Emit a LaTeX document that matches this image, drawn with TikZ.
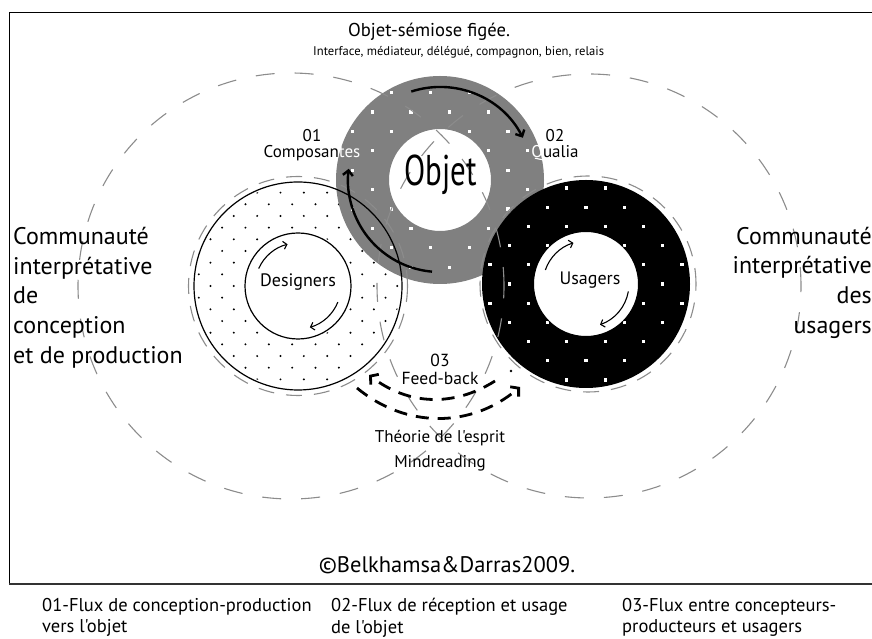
\documentclass[tikz,border=0pt]{standalone}
\usepackage{fontspec}
\setmainfont{PT Sans}[Ligatures=TeXOff]
\newfontfamily\objfont{PT Sans}[FakeStretch=0.72, Ligatures=TeXOff]
\usetikzlibrary{arrows.meta}

\begin{document}
\begin{tikzpicture}[
                x=1pt, y=1pt,
                farcircle/.style={
                    draw=black!45,
                    line width=1.1pt,
                    dash pattern=on 19pt off 20pt
                },
                nearcircle/.style={
                    draw=black!45,
                    line width=1.1pt,
                    dash pattern=on 16pt off 12pt
                },
                flow/.style={
                    line width=2.4pt,
                    -{Straight Barb[length=5pt,width=10pt]}
                },
                spin/.style={
                    line width=1.1pt,
                    -{Straight Barb[length=3.5pt,width=8pt]}
                },
                feedback/.style={
                    line width=2.8pt,
                    dash pattern=on 13pt off 9pt,
                    -{Straight Barb[length=5.5pt,width=13pt]}
                },
                lbl/.style={
                    inner sep=0pt
                }
            ]
                \useasboundingbox (0,0) rectangle (872,639);

                % frame
                \draw[line width=1.5pt] (872,626.3) -- (9.5,626.3) -- (9.5,55.4);
                \draw[line width=2pt, black!80] (8.75,55.4) -- (872,55.4);

                % centres
                \coordinate (obj)  at (440,459);
                \coordinate (des)  at (298,353);
                \coordinate (usa)  at (586,355);
                \coordinate (bigl) at (291,353);
                \coordinate (bigr) at (589,353);

                % designers ring, black dots
                \begin{scope}[even odd rule]
                    \clip (des) circle[radius=102] (des) circle[radius=55];
                    \foreach \j in {-9,...,9}
                        \foreach \i in {-10,-8,...,8} {
                            \pgfmathsetmacro{\dx}{11.67*(\i+mod(abs(\j),2)+0.5)}
                            \pgfmathsetmacro{\dy}{11.67*\j}
                            \fill ([shift={(\dx,\dy)}]des) circle[radius=1.1];
                        }
                \end{scope}

                % objet ring, grey with white dots
                \fill[gray, even odd rule] (obj) circle[radius=104] (obj) circle[radius=51];
                \begin{scope}[even odd rule]
                    \clip (obj) circle[radius=103] (obj) circle[radius=52];
                    \foreach \j in {-6,...,6}
                        \foreach \i in {-6,-4,...,6} {
                            \pgfmathsetmacro{\dx}{19.4*(\i+mod(abs(\j)+1,2)+0.5)}
                            \pgfmathsetmacro{\dy}{19.4*(\j+0.5)}
                            \fill[white] ([shift={(\dx-1.6,\dy-1.6)}]obj) rectangle +(3.2,3.2);
                        }
                \end{scope}

                \draw[line width=1.2pt] (des) circle[radius=104];
                \draw[line width=1.2pt] (des) circle[radius=53];

                % usagers ring, black with white dots
                \fill[black, even odd rule] (usa) circle[radius=104] (usa) circle[radius=52];
                \begin{scope}[even odd rule]
                    \clip (usa) circle[radius=103] (usa) circle[radius=53];
                    \foreach \j in {-6,...,6}
                        \foreach \i in {-6,-4,...,6} {
                            \pgfmathsetmacro{\dx}{19.2*(\i+mod(abs(\j),2))}
                            \pgfmathsetmacro{\dy}{19.2*\j}
                            \fill[white] ([shift={(\dx-1.6,\dy-1.6)}]usa) rectangle +(3.2,3.2);
                        }
                \end{scope}

                % dashed circles
                \draw[farcircle] (bigl) circle[radius=213];
                \draw[farcircle] (bigr) circle[radius=212];
                \draw[nearcircle] (des) circle[radius=109.5];
                \draw[nearcircle] ([shift={(2,0)}]usa) circle[radius=108];

                % flows 01 and 02
                \coordinate (flowtop)  at ([shift={(108:93)}]obj);
                \coordinate (flowleft) at ([shift={(265:92)}]obj);
                \draw[flow] (flowtop) arc[start angle=108, end angle=27, radius=93];
                \draw[flow] (flowleft) arc[start angle=265, end angle=173, radius=92];

                % inner rotations
                \coordinate (desup) at ([shift={(156:43)}]des);
                \coordinate (deslo) at ([shift={(-22:43)}]des);
                \coordinate (usaup) at ([shift={(161:43)}]usa);
                \coordinate (usalo) at ([shift={(-10:43)}]usa);
                \draw[spin] (desup) arc[start angle=156, end angle=104, radius=43];
                \draw[spin] (deslo) arc[start angle=-22, end angle=-74, radius=43];
                \draw[spin] (usaup) arc[start angle=161, end angle=107, radius=43];
                \draw[spin] (usalo) arc[start angle=-10, end angle=-71, radius=43];

                % flow 03
                \coordinate (fbas) at (495,258);
                \coordinate (fbae) at (369,264);
                \coordinate (fbbs) at (357,251);
                \coordinate (fbbe) at (520,252);
                \draw[feedback] (fbas) to[bend left=35] (fbae);
                \draw[feedback] (fbbs) to[bend right=40] (fbbe);
                \fill (511,268) circle[radius=1.4];

                % labels
                \node[lbl, font=\fontsize{18.6}{22}\selectfont, anchor=west] (title) at (348,607) {Objet-sémiose figée.};
                \node[lbl, font=\fontsize{12.6}{14}\selectfont, anchor=west] (roles) at (313,587) {Interface, médiateur, délégué, compagnon, bien, relais};
                \node[lbl, font=\fontsize{17}{16}\selectfont, align=center] (comp) at (312,494)
                    {01\\Composan\textcolor{white}{tes}};
                \node[lbl, font=\fontsize{17}{16}\selectfont, align=center] (qual) at (555,494)
                    {02\\\textcolor{white}{Q}ualia};
                \node[lbl, font=\objfont\fontsize{43}{46}\selectfont] (objet) at (441,464) {Objet};
                \node[lbl, font=\fontsize{18}{21}\selectfont]   (desl)  at (298,357) {Designers};
                \node[lbl, font=\fontsize{18}{21}\selectfont]   (usal)  at (590,359) {Usagers};

                \node[lbl, font=\fontsize{24}{29.7}\selectfont, align=left, anchor=west]  (comleft)  at (13,341.5)
                    {Communauté\\interprétative\\de\\conception\\et de production};
                \node[lbl, font=\fontsize{24}{29.7}\selectfont, align=right, anchor=east] (comright) at (872,356.5)
                    {Communauté\\interprétative\\des\\usagers};

                \node[lbl, font=\fontsize{17.5}{18}\selectfont, align=center] (feed) at (440,270)
                    {03\\Feed-back};
                \node[lbl, font=\fontsize{17}{25}\selectfont, align=center] (mind) at (440,188.5)
                    {Théorie de l'esprit\\Mindreading};

                \node[lbl, font=\fontsize{22.5}{26}\selectfont] (copy)  at (447,74) {©Belkhamsa\&Darras2009.};

                \node[lbl, font=\fontsize{18.5}{21.5}\selectfont, align=left, anchor=north west] (leg1) at (42,41)
                    {01-Flux de conception-production\\vers l'objet};
                \node[lbl, font=\fontsize{18.5}{21.5}\selectfont, align=left, anchor=north west] (leg2) at (331,41)
                    {02-Flux de réception et usage\\de l'objet};
                \node[lbl, font=\fontsize{18.5}{21.5}\selectfont, align=left, anchor=north west] (leg3) at (622,41)
                    {03-Flux entre concepteurs-\\producteurs et usagers};

            \end{tikzpicture}
\end{document}
